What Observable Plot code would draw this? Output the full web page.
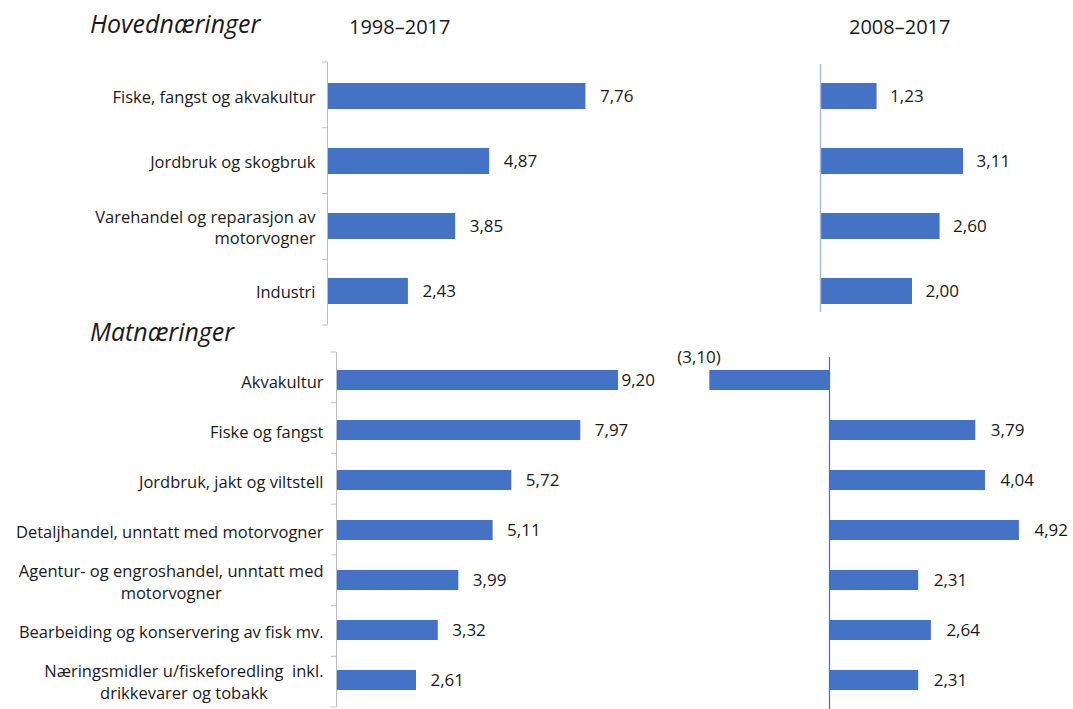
<!DOCTYPE html>
<html>
<head>
<meta charset="utf-8">
<script src="https://cdn.jsdelivr.net/npm/d3@7"></script>
<script src="https://cdn.jsdelivr.net/npm/@observablehq/plot@0.6"></script>
<style>
  html, body { margin: 0; padding: 0; background: #fff; }
  #root { position: relative; width: 1073px; height: 709px; overflow: hidden; font-family: "Open Sans", sans-serif; color: #1a1a1a; }
  .panel { position: absolute; }
  .title { position: absolute; white-space: nowrap; line-height: 1; color: #1a1a1a; }
</style>
</head>
<body>
<div id="root"></div>
<script>
// ---- data ----
const groupTitles = ["Hovednæringer", "Matnæringer"];
const periods = ["1998–2017", "2008–2017"];
const hovedCats = [
  "Fiske, fangst og akvakultur",
  "Jordbruk og skogbruk",
  "Varehandel og reparasjon av\nmotorvogner",
  "Industri"
];
const hoved9817 = [7.76, 4.87, 3.85, 2.43];
const hoved0817 = [1.23, 3.11, 2.60, 2.00];
const matCats = [
  "Akvakultur",
  "Fiske og fangst",
  "Jordbruk, jakt og viltstell",
  "Detaljhandel, unntatt med motorvogner",
  "Agentur- og engroshandel, unntatt med\nmotorvogner",
  "Bearbeiding og konservering av fisk mv.",
  "Næringsmidler u/fiskeforedling  inkl.\ndrikkevarer og tobakk"
];
const mat9817 = [9.20, 7.97, 5.72, 5.11, 3.99, 3.32, 2.61];
const mat0817 = [-3.10, 3.79, 4.04, 4.92, 2.31, 2.64, 2.31];

// ---- helpers ----
const BLUE = "#4472c4";
const TEXT = "#1a1a1a";
const FONT = "'Open Sans', sans-serif";
const LABEL_SIZE = 16.5;
const VALUE_SIZE = 17;
const PAD_IN = 0.6, PAD_OUT = 0.3;
const fmt = v => {
  const s = d3.format(".2f")(Math.abs(v)).replace(".", ",");
  return v < 0 ? `(${s})` : s;
};
const rows = (cats, vals) => cats.map((c, i) => ({cat: c, v: vals[i]}));

const canvas = document.createElement("canvas");
const ctx = canvas.getContext("2d");
function textWidth(s, size) {
  ctx.font = `${size}px ${FONT}`;
  return ctx.measureText(s).width;
}

// boundary tick marks (category separators) drawn left of the axis
function boundaryTicks(cats, color) {
  return (index, scales, values, dims) => {
    const y = d3.scaleBand(cats, [dims.marginTop, dims.height - dims.marginBottom])
      .paddingInner(PAD_IN).paddingOuter(PAD_OUT);
    const step = y.step();
    const ys = cats.map(c => y(c) - step * PAD_IN / 2);
    ys.push(y(cats[cats.length - 1]) + y.bandwidth() + step * PAD_IN / 2);
    const x0 = dims.marginLeft;
    const g = d3.create("svg:g");
    g.selectAll("line").data(ys).join("line")
      .attr("x1", x0 - 5).attr("x2", x0)
      .attr("y1", d => d).attr("y2", d => d)
      .attr("stroke", color).attr("stroke-width", 1);
    return g.node();
  };
}

const root = document.getElementById("root");
function place(node, left, top) {
  const div = document.createElement("div");
  div.className = "panel";
  div.style.left = left + "px";
  div.style.top = top + "px";
  div.appendChild(node);
  root.appendChild(div);
}
function title(text, left, top, size, italic) {
  const d = document.createElement("div");
  d.className = "title";
  d.textContent = text;
  d.style.left = left + "px";
  d.style.top = top + "px";
  d.style.fontSize = size + "px";
  if (italic) d.style.fontStyle = "italic";
  root.appendChild(d);
}

const baseStyle = {fontFamily: FONT, fontSize: LABEL_SIZE + "px", color: TEXT, background: "transparent", overflow: "visible"};

// ---- Panel A: Hovednæringer 1998–2017 ----
{
  const data = rows(hovedCats, hoved9817);
  const W = 700, H = 330, mL = 327, mR = 40, mT = 62, mB = 5;
  const p = Plot.plot({
    width: W, height: H, marginLeft: mL, marginRight: mR, marginTop: mT, marginBottom: mB,
    style: baseStyle,
    x: {domain: [0, 10], axis: null},
    y: {domain: hovedCats, paddingInner: PAD_IN, paddingOuter: PAD_OUT, axis: null},
    marks: [
      Plot.barX(data, {x: "v", y: "cat", fill: BLUE}),
      Plot.ruleX([0], {stroke: "#bfbfbf", strokeWidth: 1}),
      boundaryTicks(hovedCats, "#bfbfbf"),
      Plot.text(data, {x: () => 0, y: "cat", text: "cat", textAnchor: "end", dx: -12, lineHeight: 1.3, fill: TEXT, fontSize: LABEL_SIZE}),
      Plot.text(data, {x: "v", y: "cat", text: d => fmt(d.v), textAnchor: "start", dx: 14, fill: TEXT, fontSize: VALUE_SIZE})
    ]
  });
  place(p, 0, 0);
}

// ---- Panel B: Hovednæringer 2008–2017 ----
{
  const data = rows(hovedCats, hoved0817);
  const W = 373, H = 330, mL = 120, mR = 23, mT = 62, mB = 5;
  const p = Plot.plot({
    width: W, height: H, marginLeft: mL, marginRight: mR, marginTop: mT, marginBottom: mB,
    style: baseStyle,
    x: {domain: [0, 5], axis: null},
    y: {domain: hovedCats, paddingInner: PAD_IN, paddingOuter: PAD_OUT, axis: null},
    marks: [
      Plot.barX(data, {x: "v", y: "cat", fill: BLUE}),
      Plot.ruleX([0], {stroke: "#a9bbdc", strokeWidth: 1.5, insetTop: 2, insetBottom: 13}),
      Plot.text(data, {x: "v", y: "cat", text: d => fmt(d.v), textAnchor: "start", dx: 13, fill: TEXT, fontSize: VALUE_SIZE})
    ]
  });
  place(p, 700, 0);
}

// ---- Panel C: Matnæringer 1998–2017 ----
{
  const data = rows(matCats, mat9817);
  const W = 660, H = 379, mL = 336, mR = 17.5, mT = 22, mB = 2;
  const maxV = d3.max(mat9817);
  const labelMarks = data.map(d => {
    const w = d3.max(d.cat.split("\n"), s => textWidth(s, LABEL_SIZE));
    return Plot.text([d], {x: () => 0, y: "cat", text: "cat", textAnchor: "middle", dx: -(13 + w / 2), lineHeight: 1.35, fill: TEXT, fontSize: LABEL_SIZE});
  });
  const p = Plot.plot({
    width: W, height: H, marginLeft: mL, marginRight: mR, marginTop: mT, marginBottom: mB,
    style: baseStyle,
    x: {domain: [0, 10], axis: null},
    y: {domain: matCats, paddingInner: PAD_IN, paddingOuter: PAD_OUT, axis: null},
    marks: [
      Plot.barX(data, {x: "v", y: "cat", fill: BLUE}),
      Plot.ruleX([0], {stroke: "#bfbfbf", strokeWidth: 1}),
      boundaryTicks(matCats, "#bfbfbf"),
      ...labelMarks,
      Plot.text(data.filter(d => d.v !== maxV), {x: "v", y: "cat", text: d => fmt(d.v), textAnchor: "start", dx: 14, fill: TEXT, fontSize: VALUE_SIZE}),
      Plot.text(data.filter(d => d.v === maxV), {x: "v", y: "cat", text: d => fmt(d.v), textAnchor: "start", dx: 3, fill: TEXT, fontSize: VALUE_SIZE})
    ]
  });
  place(p, 0, 330);
}

// ---- Panel D: Matnæringer 2008–2017 ----
{
  const data = rows(matCats, mat0817);
  const W = 413, H = 379, mL = 14.6, mR = 12.4, mT = 22, mB = 2;
  const p = Plot.plot({
    width: W, height: H, marginLeft: mL, marginRight: mR, marginTop: mT, marginBottom: mB,
    style: baseStyle,
    x: {domain: [-4, 6], axis: null},
    y: {domain: matCats, paddingInner: PAD_IN, paddingOuter: PAD_OUT, axis: null},
    marks: [
      Plot.barX(data, {x: "v", y: "cat", fill: BLUE}),
      Plot.ruleX([0], {stroke: "#4a6db0", strokeWidth: 1.2, insetTop: 5, insetBottom: -2}),
      Plot.text(data.filter(d => d.v >= 0), {x: "v", y: "cat", text: d => fmt(d.v), textAnchor: "start", dx: 15, fill: TEXT, fontSize: VALUE_SIZE}),
      Plot.text(data.filter(d => d.v < 0), {x: "v", y: "cat", text: d => fmt(d.v), textAnchor: "end", dx: 11, dy: -23, fill: TEXT, fontSize: VALUE_SIZE})
    ]
  });
  place(p, 660, 330);
}

// ---- titles ----
title(groupTitles[0], 90, 11, 25, true);
title(periods[0], 349, 17, 20, false);
title(periods[1], 849, 17, 20, false);
title(groupTitles[1], 90, 319, 25, true);
</script>
</body>
</html>
